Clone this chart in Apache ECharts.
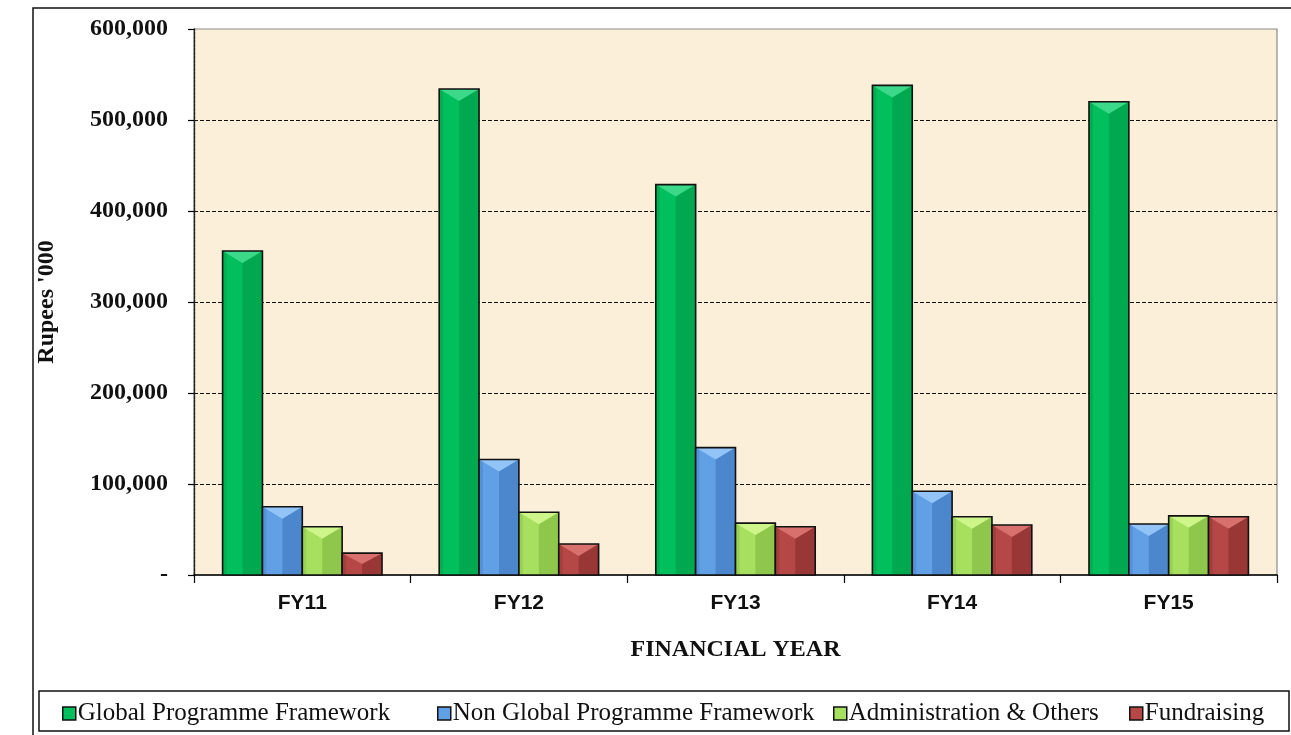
<!DOCTYPE html>
<html>
<head>
<meta charset="utf-8">
<title>Expenditure by Financial Year</title>
<script src="https://cdn.jsdelivr.net/npm/echarts@6/dist/echarts.min.js"></script>
<style>
  html, body { margin: 0; padding: 0; background: #ffffff; }
  #chart { width: 1291px; height: 735px; }
</style>
</head>
<body>
<div id="chart"></div>
<script>
// Financial years on the category axis
const categories = ['FY11', 'FY12', 'FY13', 'FY14', 'FY15'];

// Expenditure, Rupees '000
const globalProgramme = [356000, 534000, 429000, 538000, 520000];
const nonGlobalProgramme = [75000, 127000, 140000, 92000, 56000];
const administration = [53000, 69000, 57000, 64000, 65000];
const fundraising = [24000, 34000, 53000, 55000, 64000];

// Value axis ticks
const yTicks = [0, 100000, 200000, 300000, 400000, 500000, 600000];

const seriesDefs = [
  { name: 'Global Programme Framework', values: globalProgramme,
    base: '#00BF5C', dark: '#00A84F', edge: '#00AF52', light: '#3DD98A' },
  { name: 'Non Global Programme Framework', values: nonGlobalProgramme,
    base: '#62A0E6', dark: '#4C87CE', edge: '#5591DA', light: '#93C4F7' },
  { name: 'Administration & Others', values: administration,
    base: '#A6E05E', dark: '#8FC74C', edge: '#98D054', light: '#CDF58A' },
  { name: 'Fundraising', values: fundraising,
    base: '#B54846', dark: '#983735', edge: '#A53F3D', light: '#D8716E' }
];

// Left edge of each legend entry along the key strip
const legendLefts = [62, 437, 833, 1129];

const BAR_FRACTION = 0.184; // each bar's share of a category band

function makeRenderer(k, def) {
  return function (params, api) {
    const idx = api.value(0);
    const v = api.value(1);
    const p0 = api.coord([idx, 0]);
    const p1 = api.coord([idx, v]);
    const band = api.size([1, 0])[0];
    const w = band * BAR_FRACTION;
    const x = p0[0] - 2 * w + k * w;
    const y = p1[1];
    const h = p0[1] - p1[1];
    const tri = Math.min(w * 0.3, h * 0.5);
    return {
      type: 'group',
      children: [
        { type: 'rect', shape: { x: x, y: y, width: w, height: h },
          style: { fill: def.base } },
        { type: 'rect', shape: { x: x + w / 2, y: y, width: w / 2, height: h },
          style: { fill: def.dark } },
        { type: 'rect', shape: { x: x, y: y, width: w * 0.1, height: h },
          style: { fill: def.edge } },
        { type: 'polygon',
          shape: { points: [[x, y], [x + w, y], [x + w / 2, y + tri]] },
          style: { fill: def.light } },
        { type: 'rect', shape: { x: x, y: y, width: w, height: h },
          style: { fill: 'none', stroke: '#111', lineWidth: 1.6 } }
      ]
    };
  };
}

const chart = echarts.init(document.getElementById('chart'), null, { renderer: 'canvas' });

const serif = '"Liberation Serif", "DejaVu Serif", serif';
const sans = '"Liberation Sans", Arial, sans-serif';

const option = {
  backgroundColor: '#ffffff',
  animation: false,
  grid: {
    left: 194, right: 14, top: 29, bottom: 160,
    show: true,
    backgroundColor: '#FCEFD9',
    borderColor: '#8a8a8a',
    borderWidth: 1.2
  },
  xAxis: {
    type: 'category',
    data: categories,
    boundaryGap: true,
    name: 'FINANCIAL YEAR',
    nameLocation: 'middle',
    nameGap: 63,
    nameTextStyle: { fontFamily: serif, fontWeight: 'bold', fontSize: 24, color: '#111' },
    axisLine: { lineStyle: { color: '#000', width: 1.6 } },
    axisTick: { show: true, length: 8, lineStyle: { color: '#000', width: 1.2 } },
    axisLabel: { fontFamily: sans, fontWeight: 'bold', fontSize: 21, color: '#111', margin: 18 },
    splitLine: { show: false }
  },
  yAxis: {
    type: 'value',
    min: yTicks[0],
    max: yTicks[yTicks.length - 1],
    interval: yTicks[1] - yTicks[0],
    name: "Rupees '000",
    nameLocation: 'middle',
    nameGap: 135,
    nameRotate: 90,
    nameTextStyle: { fontFamily: serif, fontWeight: 'bold', fontSize: 24, color: '#111' },
    axisLine: { show: true, lineStyle: { color: '#222', width: 1.4, type: [3, 1] } },
    axisTick: { show: true, inside: false, length: 6, lineStyle: { color: '#000', width: 1.2 } },
    axisLabel: {
      fontFamily: serif, fontWeight: 'bold', fontSize: 24, color: '#111', margin: 26,
      formatter: function (v) { return v === 0 ? '-' : v.toLocaleString('en-US'); }
    },
    splitLine: {
      show: true, showMinLine: false, showMaxLine: false,
      lineStyle: { color: '#111', width: 1, type: [4, 2] }
    }
  },
  // one key entry per legend block so each sits at its own spot in the strip
  legend: seriesDefs.map((d, k) => ({
    top: 701,
    left: legendLefts[k],
    padding: 0,
    itemWidth: 13,
    itemHeight: 13,
    itemGap: 0,
    icon: 'rect',
    textStyle: { fontFamily: serif, fontSize: 25, color: '#111', padding: [0, 0, 0, -3] },
    data: [{
      name: d.name,
      itemStyle: { color: d.base, borderColor: '#111', borderWidth: 1.5 }
    }]
  })),
  graphic: [
    { type: 'rect', silent: true, z: -1,
      shape: { x: 33, y: 8, width: 1300, height: 800 },
      style: { fill: 'none', stroke: '#111', lineWidth: 1.5 } },
    { type: 'rect', silent: true, z: -1,
      shape: { x: 39, y: 691, width: 1250, height: 40 },
      style: { fill: 'none', stroke: '#111', lineWidth: 1.5 } }
  ],
  series: seriesDefs.map((d, k) => ({
    type: 'custom',
    name: d.name,
    itemStyle: { color: d.base, borderColor: '#111', borderWidth: 1.5 },
    renderItem: makeRenderer(k, d),
    encode: { x: 0, y: 1 },
    data: d.values.map((v, i) => [i, v])
  }))
};

chart.setOption(option);
</script>
</body>
</html>
